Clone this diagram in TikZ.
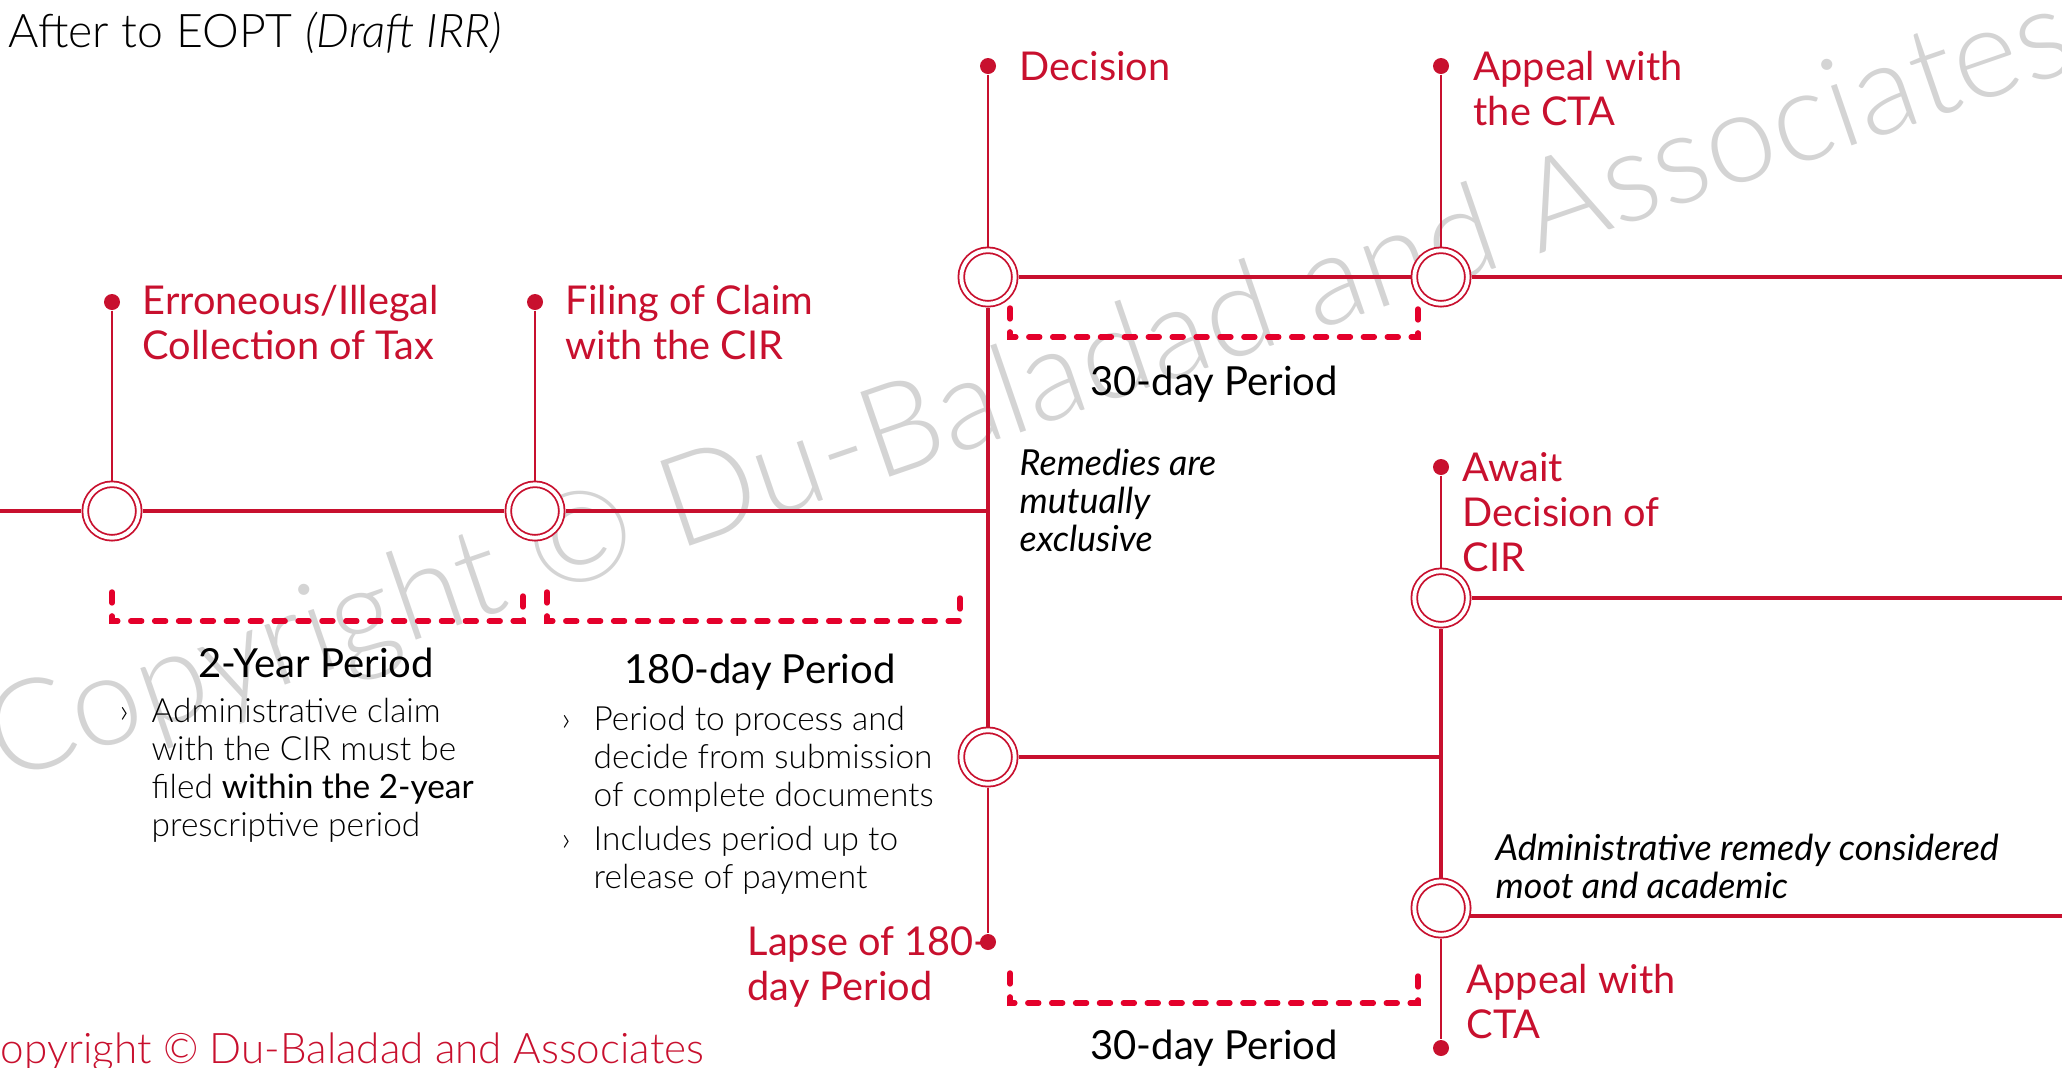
\documentclass[tikz,border=0pt]{standalone}
\usepackage{fontspec}
\setmainfont{Lato}
\newfontfamily\lightfont{Lato}[UprightFont=*-Light, ItalicFont=*-LightItalic]
\usepackage{tikz}
\usetikzlibrary{positioning,calc}
\definecolor{brand}{HTML}{C8102E}
\definecolor{dashred}{HTML}{E4002B}
\definecolor{wmgrey}{HTML}{D4D4D4}

\newcommand{\bul}{\makebox[0.32cm][l]{›}}
\newcommand{\bulgap}{\hspace*{0.32cm}}

\begin{document}
\begin{tikzpicture}[
    thickline/.style={brand, line width=1.28pt},
    thinline/.style={brand, line width=0.74pt},
    ring/.style={circle, draw=brand, line width=0.51pt, double=white, double distance=1.11pt,
        fill=white, minimum size=0.535cm, inner sep=0pt, outer sep=1.07pt},
    stemdot/.style={circle, fill=brand, minimum size=0.16cm, inner sep=0pt},
    % multi-line nodes sit on the baseline of their last line
    event/.style={anchor=base west, align=left, text=brand, inner sep=0pt,
        font=\fontsize{11.3}{12.8}\selectfont},
    period/.style={anchor=base, inner sep=0pt, font=\fontsize{11.4}{13}\selectfont},
    note/.style={anchor=base west, align=left, inner sep=0pt, font=\fontsize{9.5}{10.8}\lightfont},
    remark/.style={anchor=base west, align=left, inner sep=0pt, font=\fontsize{10.2}{10.8}\selectfont\itshape},
    bracket/.style={dashred, line width=1.56pt, line cap=round, dash pattern=on 3.1pt off 3.7pt},
    wmtext/.style={anchor=base, inner sep=0pt, text=wmgrey, font=\fontsize{36}{40}\lightfont}]
    \useasboundingbox (0,0) rectangle (20.62,-10.67);
    \clip (0,0) rectangle (20.62,-10.67);

    % Watermark
    \node[wmtext, rotate=19] (wm) at (10.42,-4.25) {Copyright © Du-Baladad and Associates};

    % Title and footer
    \node[anchor=base west, inner sep=0pt, font=\fontsize{13.2}{15}\lightfont] (title) at (0.08,-0.47) {After to EOPT \textit{(Draft IRR)}};
    \node[anchor=base west, inner sep=0pt, text=brand, font=\fontsize{12}{14}\lightfont] (footer) at (-0.28,-10.63) {Copyright © Du-Baladad and Associates};

    % Stations
    \node[ring] (erroneous) at (1.12,-5.11) {};
    \node[ring] (filing) at (5.35,-5.11) {};
    \node[ring] (decision) at (9.88,-2.77) {};
    \node[ring] (appeal) at (14.41,-2.77) {};
    \node[ring] (lapse) at (9.88,-7.57) {};
    \node[ring] (await) at (14.41,-5.98) {};
    \node[ring] (moot) at (14.41,-9.08) {};

    % Dots at the end of the stems
    \node[stemdot] (erroneousdot) at (1.12,-3.02) {};
    \node[stemdot] (filingdot) at (5.35,-3.02) {};
    \node[stemdot] (decisiondot) at (9.88,-0.66) {};
    \node[stemdot] (appealdot) at (14.41,-0.66) {};
    \node[stemdot] (awaitdot) at (14.41,-4.67) {};
    \node[stemdot] (lapsedot) at (9.88,-9.42) {};
    \node[stemdot] (ctadot) at (14.41,-10.48) {};

    % Track
    \coordinate (west) at (0,-5.11);
    \coordinate (east) at (20.62,0);
    \draw[thickline] (west) -- (erroneous) -- (filing) -- (filing -| decision);
    \draw[thickline] (decision) -- (lapse);
    \draw[thickline] (decision) -- (appeal) -- (appeal -| east);
    \draw[thickline] (lapse) -- (lapse -| await);
    \draw[thickline] (await) -- (moot);
    \draw[thickline] (await) -- (await -| east);
    \draw[thickline] (moot.-15) -- (moot.-15 -| east);

    % Stems
    \draw[thinline] (erroneousdot) -- (erroneous);
    \draw[thinline] (filingdot) -- (filing);
    \draw[thinline] (decisiondot) -- (decision);
    \draw[thinline] (appealdot) -- (appeal);
    \draw[thinline] (awaitdot) -- (await);
    \draw[thinline] (lapse) -- (lapsedot);
    \draw[thinline] (moot) -- (ctadot);

    % Event labels
    \node[event] (erroneoustext) at (1.42,-3.59) {Erroneous/Illegal\\Collection of Tax};
    \node[event] (filingtext) at (5.65,-3.59) {Filing of Claim\\with the CIR};
    \node[event] (decisiontext) at (10.19,-0.80) {Decision};
    \node[event] (appealtext) at (14.73,-1.25) {Appeal with\\the CTA};
    \node[event] (awaittext) at (14.62,-5.71) {Await\\Decision of\\CIR};
    \node[event] (ctatext) at (14.66,-10.38) {Appeal with\\CTA};
    \node[event] (lapsetext) at (7.47,-10.00) {Lapse of 180-\\day Period};

    % Periods
    \draw[bracket] (1.12,-5.92) -- (1.12,-6.21) -- (5.23,-6.21) -- (5.23,-5.92);
    \draw[bracket] (5.47,-5.92) -- (5.47,-6.21) -- (9.60,-6.21) -- (9.60,-5.92);
    \draw[bracket] (10.10,-3.08) -- (10.10,-3.37) -- (14.18,-3.37) -- (14.18,-3.08);
    \draw[bracket] (10.10,-9.73) -- (10.10,-10.03) -- (14.18,-10.03) -- (14.18,-9.73);
    \node[period] (twoyear) at (3.16,-6.77) {2-Year Period};
    \node[period] (oneeighty) at (7.60,-6.83) {180-day Period};
    \node[period] (thirtytop) at (12.14,-3.95) {30-day Period};
    \node[period] (thirtybottom) at (12.14,-10.59) {30-day Period};

    % Notes
    \node[note] (claimnote) at (1.19,-8.36) {\bul Administrative claim\\
        \bulgap with the CIR must be\\
        \bulgap filed {\rmfamily within the 2-year}\\
        \bulgap prescriptive period};
    \node[note] (processnote) at (5.61,-8.88) {\bul Period to process and\\
        \bulgap decide from submission\\
        \bulgap of complete documents\\[0.06cm]
        \bul Includes period up to\\
        \bulgap release of payment};
    \node[remark] (exclusive) at (10.19,-5.51) {Remedies are\\mutually\\exclusive};
    \node[remark] (mootnote) at (14.95,-8.98) {Administrative remedy considered\\moot and academic};
\end{tikzpicture}
\end{document}
